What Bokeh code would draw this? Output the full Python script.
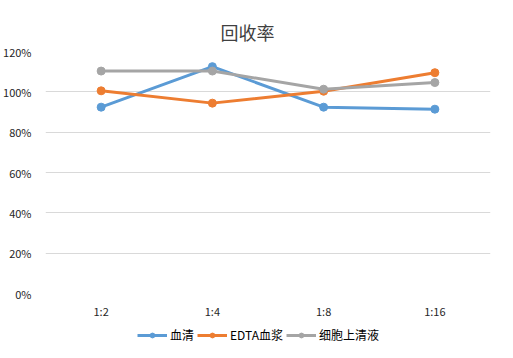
from bokeh.plotting import figure
from bokeh.layouts import column
from bokeh.models import (ColumnDataSource, FactorRange, FixedTicker, NumeralTickFormatter,
                          Legend, LegendItem, Title)
from bokeh.embed import file_html
from bokeh.resources import INLINE

categories = ["1:2", "1:4", "1:8", "1:16"]
serum = [0.924, 1.125, 0.924, 0.914]
edta_plasma = [1.005, 0.944, 1.003, 1.095]
cell_supernatant = [1.103, 1.103, 1.013, 1.046]
series_names = ["血清", "EDTA血浆", "细胞上清液"]
colors = ["#5B9BD5", "#ED7D31", "#A5A5A5"]
y_ticks = [0, 0.2, 0.4, 0.6, 0.8, 1.0, 1.2]

CJK = "Noto Sans CJK SC"

p = figure(width=505, height=325, x_range=FactorRange(*categories), y_range=(0, 1.2),
           output_backend="svg", toolbar_location=None,
           min_border_left=37, min_border_right=15, min_border_top=51, min_border_bottom=32)
p.title = None
p.add_layout(Title(text="回收率", align="left", offset=175, text_font=CJK, text_font_size="18px",
                   text_color="#404040", text_font_style="normal", standoff=13), "above")

for name, vals, c in zip(series_names, [serum, edta_plasma, cell_supernatant], colors):
    src = ColumnDataSource(dict(x=categories, y=vals))
    p.line("x", "y", source=src, line_color=c, line_width=3)
    p.scatter("x", "y", source=src, size=8, fill_color=c, line_color=c)

p.yaxis.ticker = FixedTicker(ticks=y_ticks)
p.yaxis.formatter = NumeralTickFormatter(format="0%")
for ax in [p.xaxis[0], p.yaxis[0]]:
    ax.axis_line_color = None
    ax.major_tick_line_color = None
    ax.minor_tick_line_color = None
    ax.major_label_text_font = CJK
    ax.major_label_text_font_size = "11px"
    ax.major_label_text_color = "#262626"
p.xaxis.major_label_standoff = 3
p.yaxis.major_label_standoff = 8
p.xgrid.grid_line_color = None
p.ygrid.grid_line_color = "#D9D9D9"
p.ygrid.ticker = FixedTicker(ticks=y_ticks)
p.outline_line_color = None
p.x_range.range_padding = 0

# legend strip
lg = figure(width=505, height=24, x_range=(0, 1), y_range=(0, 1),
            output_backend="svg", toolbar_location=None, min_border=0)
lg.axis.visible = False
lg.grid.visible = False
lg.outline_line_color = None
items = []
for name, c in zip(series_names, colors):
    src = ColumnDataSource(dict(x=[-10], y=[-10]))
    r1 = lg.line("x", "y", source=src, line_color=c, line_width=3)
    r2 = lg.scatter("x", "y", source=src, size=8, fill_color=c, line_color=c)
    items.append(LegendItem(label=name, renderers=[r1, r2]))
legend = Legend(items=items, orientation="horizontal", location=(92, 6),
                label_text_font=CJK, label_text_font_size="12px", label_text_color="#000000",
                glyph_width=30, glyph_height=12, spacing=3, padding=0, margin=0,
                label_standoff=3, border_line_color=None, background_fill_alpha=0)
lg.add_layout(legend, "center")

layout = column(p, lg, spacing=0)
open("out.html", "w").write(file_html(layout, INLINE))
